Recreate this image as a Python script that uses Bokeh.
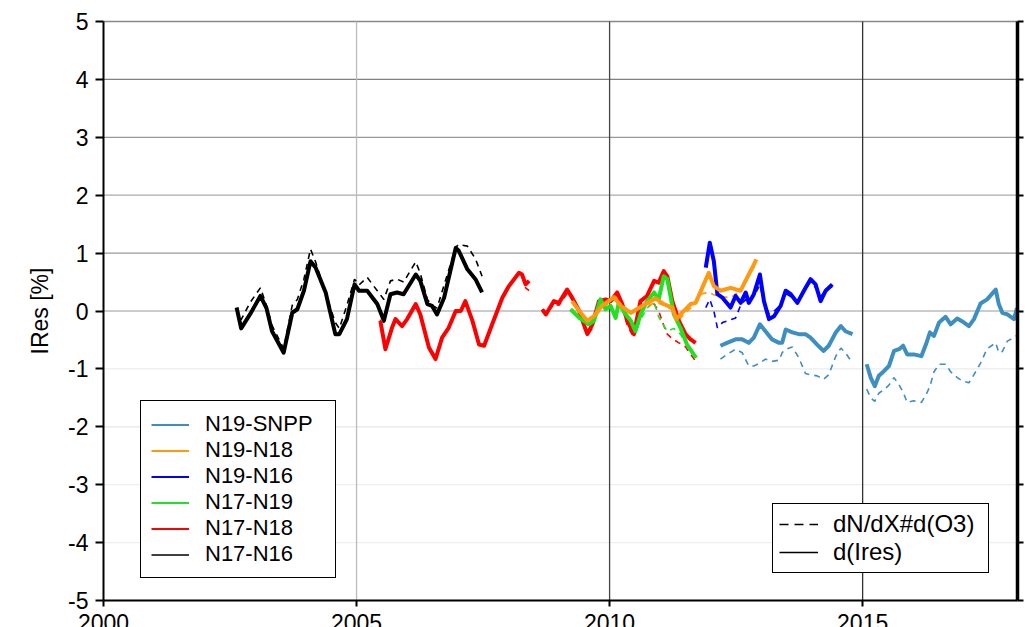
from bokeh.plotting import figure
from bokeh.models import (Range1d, LinearAxis, FixedTicker, Legend, LegendItem)
from bokeh.embed import file_html
from bokeh.resources import INLINE

NaN = float("nan")

# ---------------- data ----------------
series_names = ["N19-SNPP", "N19-N18", "N19-N16", "N17-N19", "N17-N18", "N17-N16"]
series_colors = ["#3d8fc1", "#ff9a10", "#0000ff", "#22e022", "#ff0000", "#000000"]

n17n16_year = [2002.63, 2002.72, 2002.90, 2003.10, 2003.22, 2003.33, 2003.56, 2003.73, 2003.83,
               2003.96, 2004.09, 2004.19, 2004.39, 2004.58, 2004.66, 2004.81, 2004.96, 2005.05,
               2005.21, 2005.41, 2005.54, 2005.67, 2005.80, 2005.93, 2006.17, 2006.26, 2006.40,
               2006.49, 2006.59, 2006.73, 2006.96, 2007.02, 2007.19, 2007.35, 2007.48]
n17n16_ires = [0.06, -0.30, -0.05, 0.26, 0.05, -0.35, -0.72, -0.03, 0.03, 0.35, 0.86, 0.75, 0.32,
               -0.40, -0.40, -0.14, 0.46, 0.35, 0.35, 0.12, -0.17, 0.29, 0.32, 0.29, 0.63, 0.52,
               0.12, 0.09, -0.06, 0.23, 1.09, 1.04, 0.72, 0.55, 0.32]
n17n16_dnx = [0.05, -0.15, 0.15, 0.40, 0.10, -0.25, -0.65, 0.10, 0.20, 0.55, 1.07, 0.85, 0.30,
              -0.20, -0.30, 0.10, 0.55, 0.45, 0.58, 0.35, 0.20, 0.52, 0.55, 0.50, 0.85, 0.65,
              0.20, 0.10, 0.05, 0.45, 1.10, 1.15, 1.12, 0.90, 0.60]

n17n18_year = [2005.47, 2005.57, 2005.70, 2005.77, 2005.90, 2006.00, 2006.17, 2006.26, 2006.43,
               2006.56, 2006.69, 2006.82, 2006.96, 2007.06, 2007.15, 2007.29, 2007.42, 2007.52,
               2007.68, 2007.88, 2008.01, 2008.21, 2008.27, 2008.34, 2008.41, 2008.55,
               2008.67, 2008.74, 2008.90, 2009.00, 2009.16, 2009.26, 2009.40, 2009.49, 2009.56,
               2009.66, 2009.79, 2009.92, 2010.02, 2010.15, 2010.25, 2010.35, 2010.48, 2010.61,
               2010.74, 2010.88, 2010.97, 2011.07, 2011.14, 2011.24, 2011.37, 2011.50, 2011.60,
               2011.70]
n17n18_ires = [-0.17, -0.66, -0.29, -0.14, -0.26, -0.14, 0.12, -0.06, -0.63, -0.83, -0.46, -0.29,
               0.0, 0.0, 0.17, -0.17, -0.58, -0.60, -0.23, 0.23, 0.43, 0.66, 0.63, 0.46, 0.52, NaN,
               0.03, -0.06, 0.17, 0.14, 0.37, 0.23, 0.0, -0.23, -0.40, -0.23, 0.17, 0.20, 0.17,
               0.32, 0.12, -0.17, -0.40, 0.17, 0.26, 0.52, 0.49, 0.69, 0.60, 0.17, -0.17, -0.40,
               -0.49, -0.55]
n17n18_dnx = [-0.15, -0.62, -0.27, -0.12, -0.24, -0.12, 0.12, -0.04, -0.60, -0.80, -0.44, -0.27,
              0.02, 0.02, 0.17, -0.15, -0.56, -0.58, -0.21, 0.25, 0.45, 0.66, 0.60, 0.40, 0.35, NaN,
              0.03, -0.06, 0.12, 0.10, 0.30, 0.20, -0.02, -0.25, -0.42, -0.30, 0.12, 0.18, 0.15,
              0.25, 0.05, -0.25, -0.46, 0.05, 0.15, 0.12, 0.0, -0.25, -0.40, -0.48, -0.55, -0.62,
              -0.75, -0.86]

n17n19_year = [2009.23, 2009.40, 2009.59, 2009.69, 2009.82, 2009.92, 2010.02, 2010.12, 2010.18,
               2010.32, 2010.42, 2010.51, 2010.61, 2010.74, 2010.88, 2010.97, 2011.07, 2011.14,
               2011.27, 2011.40, 2011.53, 2011.71]
n17n19_ires = [0.03, -0.12, -0.23, -0.17, 0.20, 0.03, 0.09, -0.12, 0.14, -0.06, -0.17, -0.35,
               -0.06, 0.17, 0.32, 0.20, 0.60, 0.55, -0.06, -0.29, -0.58, -0.81]
n17n19_dnx = [0.03, -0.10, -0.25, -0.20, 0.18, 0.05, 0.05, -0.10, 0.12, -0.10, -0.20, -0.40,
              -0.15, 0.05, 0.15, -0.10, -0.25, -0.35, -0.30, -0.40, -0.60, -0.80]

n19n18_year = [2009.26, 2009.40, 2009.56, 2009.69, 2009.85, 2010.09, 2010.22, 2010.42, 2010.65,
               2010.91, 2011.07, 2011.24, 2011.32, 2011.40, 2011.60, 2011.70, 2011.83, 2011.96,
               2012.06, 2012.19, 2012.39, 2012.59, 2012.65, 2012.75, 2012.85, 2012.90]
n19n18_ires = [0.17, 0.0, -0.17, -0.09, 0.09, 0.24, 0.09, -0.03, 0.09, 0.22, 0.12, 0.06, -0.14,
               -0.06, 0.12, 0.14, 0.40, 0.66, 0.43, 0.35, 0.40, 0.35, 0.46, 0.63, 0.80, 0.89]
n19n18_dnx = [0.15, -0.02, -0.15, -0.12, 0.05, 0.20, 0.10, -0.05, 0.05, 0.15, 0.10, 0.02, -0.20,
              -0.12, 0.05, 0.17, 0.30, 0.32, 0.28, 0.25, 0.23, 0.35, 0.50, 0.60, 0.75, 0.85]

n19n16_year = [2011.90, 2011.98, 2012.06, 2012.13, 2012.23, 2012.39, 2012.49, 2012.59, 2012.69,
               2012.75, 2012.85, 2012.97, 2013.05, 2013.15, 2013.25, 2013.38, 2013.48, 2013.58,
               2013.71, 2013.84, 2013.97, 2014.07, 2014.17, 2014.27, 2014.40]
n19n16_ires = [0.75, 1.18, 0.86, 0.29, 0.23, 0.06, 0.26, 0.14, 0.32, 0.14, 0.29, 0.63, 0.17,
               -0.14, -0.09, 0.09, 0.35, 0.29, 0.14, 0.35, 0.55, 0.46, 0.17, 0.35, 0.46]
n19n16_dnx = [0.06, 0.20, 0.0, -0.29, -0.20, -0.15, -0.12, 0.10, 0.20, 0.14, 0.25, 0.45, 0.15,
              -0.05, 0.00, 0.10, 0.30, 0.25, 0.15, 0.35, 0.50, 0.40, 0.25, 0.35, 0.42]

n19snpp_year = [2012.19, 2012.32, 2012.49, 2012.62, 2012.75, 2012.85, 2012.97, 2013.08, 2013.21,
                2013.35, 2013.41, 2013.48, 2013.61, 2013.74, 2013.87, 2013.97, 2014.10, 2014.23,
                2014.33, 2014.47, 2014.57, 2014.66, 2014.80, 2014.95,
                2015.08, 2015.16, 2015.24, 2015.32, 2015.42, 2015.52, 2015.62, 2015.72, 2015.80,
                2015.88, 2016.01, 2016.16, 2016.25, 2016.33, 2016.41, 2016.51, 2016.64, 2016.74,
                2016.87, 2016.97, 2017.10, 2017.20, 2017.33, 2017.46, 2017.63, 2017.69, 2017.76,
                2017.86, 2017.99, 2018.05]
n19snpp_ires = [-0.60, -0.55, -0.49, -0.49, -0.55, -0.46, -0.23, -0.35, -0.49, -0.55, -0.55,
                -0.32, -0.37, -0.40, -0.40, -0.46, -0.58, -0.69, -0.60, -0.37, -0.26, -0.35,
                -0.40, NaN,
                -0.92, -1.15, -1.30, -1.12, -1.04, -0.95, -0.69, -0.66, -0.60, -0.75, -0.75,
                -0.78, -0.58, -0.37, -0.43, -0.20, -0.10, -0.23, -0.13, -0.18, -0.26, -0.14,
                0.13, 0.20, 0.37, 0.12, -0.03, -0.06, -0.14, 0.05]
n19snpp_dnx = [-0.83, -0.75, -0.66, -0.72, -0.95, -0.95, -0.90, -0.83, -0.87, -0.85, -0.72,
               -0.66, -0.62, -0.81, -1.08, -1.10, -1.12, -1.18, -1.10, -0.78, -0.64, -0.72,
               -0.90, NaN,
               -1.35, -1.50, -1.56, -1.42, -1.36, -1.28, -1.15, -1.28, -1.40, -1.58, -1.55,
               -1.58, -1.45, -1.30, -1.05, -0.92, -0.92, -1.05, -1.15, -1.21, -1.24, -1.10,
               -0.90, -0.65, -0.55, -0.72, -0.70, -0.52, -0.46, -0.42]

x_ticks = [2000, 2005, 2010, 2015]
x_tick_labels = ["2000", "2005", "2010", "2015"]
y_ticks = [-5, -4, -3, -2, -1, 0, 1, 2, 3, 4, 5]
y_label = "IRes [%]"
style_labels = ["dN/dX#d(O3)", "d(Ires)"]

FONT = "Liberation Sans"

# ---------------- layout geometry ----------------
W, H = 1025, 627
PAD_L, PAD_R, PAD_T, PAD_B = 103, 8, 21, 27       # space around the plotting box
X_LO, X_HI = 2000, 2018.06
Y_LO, Y_HI = -5, 5
ppx = (W - PAD_L - PAD_R) / (X_HI - X_LO)
ppy = (H - PAD_T - PAD_B) / (Y_HI - Y_LO)

# The frame covers the whole page; axes are pinned at the plotting-box edges
# so that tick labels are never clipped.
p = figure(width=W, height=H, output_backend="svg", toolbar_location=None,
           x_range=Range1d(X_LO - PAD_L / ppx, X_HI + PAD_R / ppx),
           y_range=Range1d(Y_LO - PAD_B / ppy, Y_HI + PAD_T / ppy),
           min_border=0, min_border_left=0, min_border_right=0,
           min_border_top=0, min_border_bottom=0,
           x_axis_location=None, y_axis_location=None)
p.outline_line_color = None
p.xgrid.visible = False
p.ygrid.visible = False
p.background_fill_color = "white"
p.border_fill_color = "white"

# grid lines (only inside the plotting box)
hgrid_colors = ["#eeeeee", "#eeeeee", "#eeeeee", "#e6e6e6", "#ececec", "#bbbbbb",
                "#999999", "#aaaaaa", "#999999", "#808080", "#888888"]
p.segment(x0=[X_LO] * len(y_ticks), y0=y_ticks, x1=[X_HI] * len(y_ticks), y1=y_ticks,
          line_color=hgrid_colors, line_width=1.3)
vgrid_x = x_ticks[1:]
vgrid_colors = ["#bbbbbb", "#444444", "#333333"]
p.segment(x0=vgrid_x, y0=[Y_LO] * len(vgrid_x), x1=vgrid_x, y1=[Y_HI] * len(vgrid_x),
          line_color=vgrid_colors, line_width=1.3)

left = LinearAxis(ticker=FixedTicker(ticks=y_ticks), axis_label=y_label,
                  bounds=(Y_LO, Y_HI), fixed_location=X_LO)
left.major_label_overrides = {v: str(v) for v in y_ticks}
left.axis_line_width = 2
left.major_tick_line_width = 2
left.major_tick_out = 8
left.major_tick_in = 0
left.minor_tick_out = 0
left.minor_tick_in = 0
left.major_label_text_font = FONT
left.major_label_text_font_size = "23px"
left.major_label_text_color = "black"
left.major_label_standoff = 7
left.axis_label_text_font = FONT
left.axis_label_text_font_size = "23px"
left.axis_label_text_font_style = "normal"
left.axis_label_text_color = "black"
left.axis_label_standoff = 12
p.add_layout(left, "left")

bottom = LinearAxis(ticker=FixedTicker(ticks=x_ticks), bounds=(X_LO, X_HI),
                    fixed_location=Y_LO)
bottom.major_label_overrides = {v: s for v, s in zip(x_ticks, x_tick_labels)}
bottom.axis_line_width = 2
bottom.major_tick_line_width = 2
bottom.major_tick_out = 6
bottom.major_tick_in = 0
bottom.minor_tick_out = 0
bottom.minor_tick_in = 0
bottom.major_label_text_font = FONT
bottom.major_label_text_font_size = "23px"
bottom.major_label_text_color = "black"
bottom.major_label_standoff = 7
p.add_layout(bottom, "below")

right = LinearAxis(ticker=FixedTicker(ticks=y_ticks), bounds=(Y_LO, Y_HI),
                   fixed_location=X_HI)
right.axis_line_width = 3.5
right.major_tick_line_width = 2
right.major_tick_out = 6
right.major_tick_in = 0
right.minor_tick_out = 0
right.minor_tick_in = 0
right.major_label_text_font_size = "0px"
right.major_label_standoff = 0
p.add_layout(right, "right")

series = [
    (n17n16_year, n17n16_ires, n17n16_dnx, "#000000"),
    (n17n18_year, n17n18_ires, n17n18_dnx, "#ff0000"),
    (n17n19_year, n17n19_ires, n17n19_dnx, "#22e022"),
    (n19n16_year, n19n16_ires, n19n16_dnx, "#0000ff"),
    (n19snpp_year, n19snpp_ires, n19snpp_dnx, "#3d8fc1"),
    (n19n18_year, n19n18_ires, n19n18_dnx, "#ff9a10"),
]
for yr, ires, dnx, col in series:
    p.line(yr, dnx, line_color=col, line_width=1.6, line_dash="6 5")
for yr, ires, dnx, col in series:
    p.line(yr, ires, line_color=col, line_width=4, line_join="round")

# legend 1 (series colours)
items1 = []
for name, col in zip(series_names, series_colors):
    r = p.line([NaN], [NaN], line_color=col, line_width=1.5 if col == "#000000" else 2.2)
    items1.append(LegendItem(label=name, renderers=[r]))
leg1 = Legend(items=items1, location=(PAD_L + 37, PAD_B + 22), orientation="vertical",
              label_text_font=FONT, label_text_font_size="22px", label_text_color="black",
              label_height=25, glyph_height=25, glyph_width=38, label_standoff=16,
              label_width=120, spacing=0, padding=10, margin=0,
              border_line_color="black", border_line_width=1.8, border_line_alpha=1.0,
              background_fill_color="white", background_fill_alpha=1.0)
p.add_layout(leg1, "center")

# legend 2 (line styles)
rd = p.line([NaN], [NaN], line_color="black", line_width=1.6, line_dash="9 6")
rs = p.line([NaN], [NaN], line_color="black", line_width=1.4)
leg2 = Legend(items=[LegendItem(label=style_labels[0], renderers=[rd]),
                     LegendItem(label=style_labels[1], renderers=[rs])],
              location=(PAD_L + 669, PAD_B + 27), orientation="vertical",
              label_text_font=FONT, label_text_font_size="24px", label_text_color="black",
              label_height=28, glyph_height=28, glyph_width=39, label_standoff=15,
              label_width=149, spacing=0, padding=6, margin=0,
              border_line_color="black", border_line_width=1.8, border_line_alpha=1.0,
              background_fill_color="white", background_fill_alpha=1.0)
p.add_layout(leg2, "center")

open("out.html", "w").write(file_html(p, INLINE))
